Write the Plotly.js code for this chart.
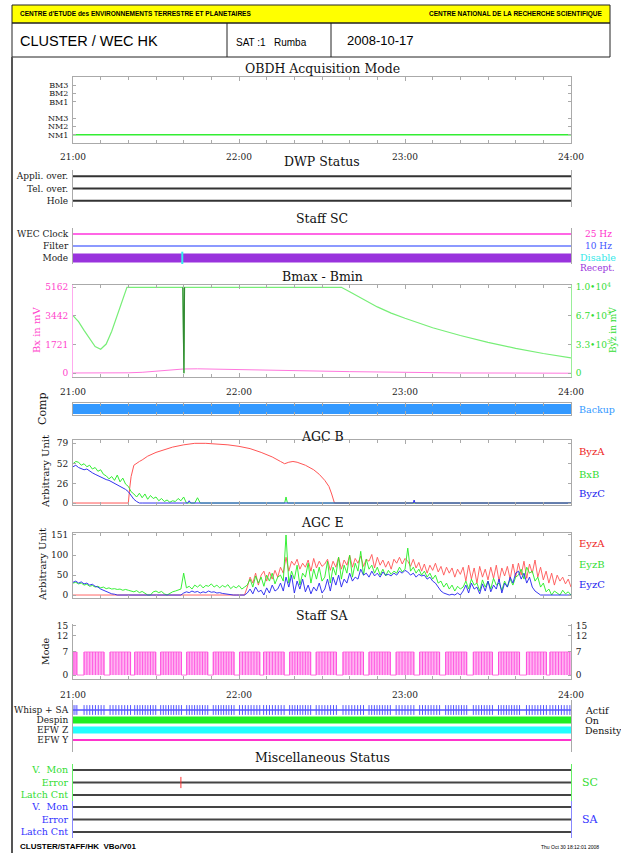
<!DOCTYPE html>
<html><head><meta charset="utf-8">
<script src="https://cdn.plot.ly/plotly-3.0.1.min.js"></script>
<style>html,body{margin:0;padding:0;background:#fff}#chart{width:621px;height:853px}</style>
</head><body><div id="chart"></div>
<script>
// ================= DATA =================
const timeTickVals = [21, 22, 23, 24];
const timeTickText = ['21:00', '22:00', '23:00', '24:00'];
const spanT = [21, 24];

// OBDH acquisition mode
const obdhLabels = ['NM1', 'NM2', 'NM3', 'BM1', 'BM2', 'BM3'];
const obdhLevels = [1, 2, 3, 5, 6, 7];
const obdhMode = [1, 1];

// DWP status
const dwpLabels = ['Hole', 'Tel. over.', 'Appli. over.'];
const dwpLevels = [0, 1, 2];
const dwpAppli = [2, 2];
const dwpTel = [1, 1];
const dwpHole = [0, 0];

// Staff SC
const scLabels = ['Mode', 'Filter', 'WEC Clock'];
const scLevels = [0, 1, 2];
const scWec = [2, 2];
const scFilter = [1, 1];
const scMode = [0, 0];
const scDisableMin = [39.5];
const scRightLabels = ['25 Hz', '10 Hz', 'Disable', 'Recept.'];

// Bmax - Bmin (minutes after 21:00)
const bxTicks = [0, 1721, 3442, 5162];
const byzTicks = [0, 3333, 6667, 10000];
const byzTickText = ['0', '3.3\u202210<sup>3</sup>', '6.7\u202210<sup>3</sup>', '1.0\u202210<sup>4</sup>'];
const byzMin = [0, 2, 4, 6, 8, 10, 12, 14, 16, 18, 19.5, 39.7, 39.9, 40.1, 40.3, 97, 100, 105, 110, 115, 120, 130, 140, 150, 160, 170, 180];
const byzVal = [6700, 6000, 5000, 4000, 3100, 2800, 3400, 4900, 6700, 8600, 10000, 10000, 0, 0, 10000, 10000, 9480, 8600, 7720, 7000, 6400, 5300, 4400, 3600, 2900, 2300, 1800];
const byzSpikeMin = [39.7, 39.9, 40.1, 40.3];
const byzSpikeVal = [10000, 0, 0, 10000];
const bxMin = [0, 10, 20, 25, 30, 35, 40, 45, 50, 60, 70, 80, 90, 100, 110, 120, 140, 160, 180];
const bxVal = [20, 10, 30, 60, 120, 200, 260, 270, 250, 220, 190, 160, 130, 100, 70, 40, 20, 15, 5];

// Comp
const compBackup = [0.5, 0.5];

// AGC B (minutes after 21:00)
const agcBTicks = [0, 26, 52, 79];
const byzAMin = [0, 20, 20.5, 21, 22, 23, 24, 25, 27, 30, 33, 36, 40, 44, 48, 52, 56, 60, 64, 68, 72, 75, 76.5, 78, 79.5, 81, 84, 87, 89, 91, 92.5, 93.5, 94.5, 180];
const byzAVal = [0, 0, 20, 35, 50, 53, 55, 57, 62, 67, 71, 74, 77, 79, 79, 78, 77, 75, 72, 67, 61, 55, 52, 54, 55, 54, 50, 44, 38, 30, 22, 12, 0, 0];
const bxBMin = [0, 1, 2, 3, 4, 5, 6, 7, 8, 9, 10, 11, 12, 13, 14, 15, 16, 17, 18, 19, 20, 21, 22, 23, 24, 25, 26, 27, 28, 29, 30, 31, 32, 33, 34, 35, 36, 37, 38, 39, 40, 41, 42, 43, 44, 45, 46, 76.5, 77, 77.5, 180];
const bxBVal = [52, 55, 54, 50, 52, 48, 50, 45, 47, 42, 44, 38, 36, 32, 35, 30, 37, 28, 33, 25, 22, 15, 12, 8, 13, 7, 12, 5, 10, 6, 8, 3, 6, 2, 4, 1, 3, 2, 6, 3, 8, 0, 0, 0, 0, 7, 0, 0, 8, 0, 0];
const byzCMin = [0, 1, 2, 3, 4, 5, 6, 7, 8, 9, 10, 11, 12, 13, 14, 15, 16, 17, 18, 19, 20, 21, 22, 23, 24, 25, 41.5, 42, 42.5, 123, 123.3, 123.6, 180];
const byzCVal = [48, 50, 47, 46, 44, 45, 42, 40, 38, 36, 35, 33, 31, 30, 28, 26, 25, 23, 20, 18, 15, 10, 5, 2, 0, 0, 0, 3, 0, 0, 4, 0, 0];

// AGC E : one sample per minute from 21:00 to 24:00
const agcETicks = [0, 50, 100, 151];
const agcEStepMin = 1;
const eyzA = [0,0,0,0,0,0,0,0,0,0, 0,0,0,0,0,0,0,0,0,0, 0,0,0,0,0,0,0,0,0,0, 0,0,0,0,0,0,0,0,0,0, 0,0,0,0,0,0,0,0,0,0, 0,0,0,0,0,0,0,0,0,0, 0,0,0,
  20,45,30,55,25,50,60,35,58,40,62,45,
  70,55,95,60,85,75,90,65,80,70,88,60,92,68,85,72,
  78,90,62,85,70,95,65,88,75,100,70,92,80,98,72,90,85,102,68,95,75,88,70,85,65,90,80,95,78,92,
  85,72,90,68,82,60,78,55,75,62,80,58,72,50,70,55,68,45,65,52,
  70,35,75,40,68,30,72,45,65,38,70,42,75,35,68,48,72,40,78,45,
  80,50,85,42,78,55,88,45,70,38,60,30,55,25,50,35,45,28,40,20];
const eyzB = [30,32,28,30,25,27,22,24,20,22,18,20,16,18,15,16,14,15,12,14,12,
  10,8,11,6,9,4,0,0,8,10,6,9,3,0,5,8,10,12,15,
  55,
  18,22,15,25,20,26,18,24,22,28,20,25,18,24,20,26,16,22,18,24,15,20,
  25,40,20,48,30,45,22,50,35,55,28,45,
  50,35,151,30,60,40,75,25,55,45,80,30,65,40,70,35,
  45,85,30,70,50,95,40,75,55,100,45,80,60,110,50,90,65,75,55,70,50,65,48,62,52,60,55,70,58,65,
  118,60,70,55,65,50,60,45,55,40,50,30,35,20,30,15,25,10,22,15,
  20,35,15,40,25,30,10,38,20,35,15,42,25,30,12,35,20,40,25,45,
  50,65,40,70,55,60,35,45,20,30,8,15,0,10,5,0,12,3,8,0];
const eyzC = [32,35,30,33,28,30,25,27,22,20,15,12,8,5,3,2,0,0,0,0,0,
  0,0,0,0,0,0,0,0,0,0,0,0,0,0,0,0,0,0,0,
  5,8,6,10,7,9,5,8,6,10,7,8,5,6,4,3,2,0,0,0,0,0,0,
  5,15,3,20,8,12,0,18,5,25,10,15,
  30,10,45,20,50,5,35,15,40,8,25,3,20,10,30,5,
  15,40,10,45,25,50,20,40,30,55,35,45,40,65,50,55,45,60,48,55,45,58,50,52,48,55,50,60,55,62,
  58,50,55,45,52,48,50,40,45,35,30,20,10,5,3,0,2,0,5,0,
  10,25,5,30,15,20,3,28,10,35,8,25,15,40,5,30,20,45,30,55,
  60,40,55,30,45,20,10,5,0,0,0,0,0,0,0,0,0,0,0,0];

// Staff SA : active bursts (minutes after 21:00), mode value 7 during bursts
const saTicks = [0, 7, 12, 15];
const saLevel = 7;
const saStart = [0, 4.0, 13.4, 22.3, 31.7, 41.1, 50.7, 60.2, 68.9, 78.3, 87.9, 97.6, 107.0, 116.8, 125.3, 134.7, 144.7, 153.8, 163.9, 172.4];
const saEnd   = [1.4, 11.2, 20.8, 29.9, 39.2, 48.7, 58.2, 67.5, 76.3, 85.9, 95.2, 105.0, 114.7, 123.2, 132.5, 142.3, 151.6, 161.4, 171.1, 179.6];

// Status
const stLabels = ['EFW Y', 'EFW Z', 'Despin', 'Whisp + SA'];
const stLevels = [0, 1, 2, 3];
const stWhisp = [3, 3];
const stDespin = [2, 2];
const stEfwZ = [1, 1];
const stEfwY = [0, 0];
const stRightLabels = ['Actif', 'On', 'Density'];

// Miscellaneous
const miscLabels = ['Latch Cnt', 'Error', 'V.  Mon'];
const miscLevels = [0, 1, 2];
const miscScLines = [[2, 2], [1, 1], [0, 0]];
const miscSaLines = [[2, 2], [1, 1], [0, 0]];
const miscScErrorMin = [39];

// ================= HELPERS =================
const W = 621, H = 853;
const X = p => p / W;
const Y = p => 1 - p / H;
const dom = (top, bot) => [Y(bot), Y(top)];
const toH = m => 21 + m / 60;
const SERIF = '"DejaVu Serif", "Liberation Serif", serif';
const SANS = '"Liberation Sans", Arial, sans-serif';
const AXC = '#aaaaaa';

const traces = [];
function tr(ax, xs, ys, color, width, extra) {
  const xa = ax === 1 ? 'x' : 'x' + ax, ya = ax === 1 ? 'y' : 'y' + ax;
  traces.push(Object.assign({type: 'scatter', mode: 'lines', x: xs, y: ys, xaxis: xa, yaxis: ya,
    line: {color: color, width: width}, hoverinfo: 'skip', showlegend: false}, extra || {}));
}

function xax(n, opts) {
  return Object.assign({
    domain: [X(73), X(571)], range: [21, 24], anchor: n === 1 ? 'y' : 'y' + n,
    tickmode: 'array', tickvals: timeTickVals, ticktext: timeTickText, showticklabels: false,
    tickfont: {family: SERIF, size: 9, color: '#222'}, ticks: 'inside', ticklen: 4, tickcolor: AXC,
    showgrid: false, zeroline: false, showline: true, linecolor: AXC, linewidth: 1, mirror: 'ticks',
    ticklabelstandoff: 5,
    minor: {tickmode: 'linear', tick0: 21, dtick: 1 / 6, ticks: 'inside', ticklen: 3, tickcolor: AXC, showgrid: false}
  }, opts || {});
}
function yax(n, top, bot, range, opts) {
  return Object.assign({
    domain: dom(top, bot), range: range, anchor: n === 1 ? 'x' : 'x' + n,
    tickfont: {family: SERIF, size: 9, color: '#222'}, ticks: 'inside', ticklen: 3, tickcolor: AXC,
    showgrid: false, zeroline: false, showline: true, linecolor: AXC, linewidth: 1, mirror: 'ticks',
    ticklabelstandoff: 2
  }, opts || {});
}

const layout = {
  width: W, height: H, autosize: false, margin: {l: 0, r: 0, t: 0, b: 0, pad: 0},
  paper_bgcolor: '#ffffff', plot_bgcolor: 'rgba(0,0,0,0)', showlegend: false,
  font: {family: SERIF, size: 9, color: '#222'}, shapes: [], annotations: []
};
function ann(text, xp, yp, opts) {
  layout.annotations.push(Object.assign({text: text, x: X(xp), y: Y(yp), xref: 'paper', yref: 'paper',
    showarrow: false, xanchor: 'center', yanchor: 'middle', font: {family: SERIF, size: 12, color: '#111'}}, opts || {}));
}
function title(text, yp) { ann(text, 322, yp, {font: {family: SERIF, size: 12.5, color: '#111'}}); }
function rlab(text, yp, color, size, xp) { ann(text, xp || 578, yp, {xanchor: 'left', font: {family: SERIF, size: size || 9.5, color: color}}); }
function vlab(text, xp, yp, color, size) { ann(text, xp, yp, {textangle: -90, font: {family: SERIF, size: size || 10, color: color}}); }

// ================= HEADER / FRAME =================
layout.shapes.push({type: 'rect', xref: 'paper', yref: 'paper', x0: X(12), x1: X(610), y0: Y(23), y1: Y(5), fillcolor: '#ffff00', line: {color: '#222', width: 1}, layer: 'below'});
layout.shapes.push({type: 'rect', xref: 'paper', yref: 'paper', x0: X(12), x1: X(610), y0: Y(57), y1: Y(23), line: {color: '#222', width: 1}});
layout.shapes.push({type: 'line', xref: 'paper', yref: 'paper', x0: X(227), x1: X(227), y0: Y(57), y1: Y(23), line: {color: '#222', width: 1}});
layout.shapes.push({type: 'line', xref: 'paper', yref: 'paper', x0: X(331), x1: X(331), y0: Y(57), y1: Y(23), line: {color: '#222', width: 1}});
layout.shapes.push({type: 'line', xref: 'paper', yref: 'paper', x0: X(12), x1: X(12), y0: 0, y1: Y(57), line: {color: '#555', width: 2}});
ann("<b>CENTRE d'ETUDE des ENVIRONNEMENTS TERRESTRE ET PLANETAIRES</b>", 18, 14, {xanchor: 'left', font: {family: SANS, size: 6.5, color: '#000'}});
ann('<b>CENTRE NATIONAL DE LA RECHERCHE SCIENTIFIQUE</b>', 605, 14, {xanchor: 'right', font: {family: SANS, size: 6.5, color: '#000'}});
ann('CLUSTER / WEC HK', 18, 41, {xanchor: 'left', font: {family: SANS, size: 14.5, color: '#000'}});
ann('SAT :1\u00a0\u00a0 Rumba', 234, 43, {xanchor: 'left', font: {family: SANS, size: 10, color: '#000'}});
ann('2008-10-17', 345, 41, {xanchor: 'left', font: {family: SANS, size: 13, color: '#000'}});
ann('<b>CLUSTER/STAFF/HK\u00a0 VBo/V01</b>', 18, 846, {xanchor: 'left', font: {family: SANS, size: 8, color: '#000'}});
ann('Thu Oct 30 18:12:01 2008', 601, 847, {xanchor: 'right', font: {family: SANS, size: 5, color: '#000'}});

// ================= PANEL 1: OBDH =================
title('OBDH Acquisition Mode', 69);
layout.xaxis = xax(1, {showticklabels: true, ticklabelstandoff: 5});
layout.yaxis = yax(1, 77, 143, [0, 8], {tickmode: 'array', tickvals: obdhLevels, ticktext: obdhLabels, tickfont: {family: SERIF, size: 8, color: '#222'}});
tr(1, spanT, obdhMode, '#33ee33', 1.5);

// ================= PANEL 2: DWP =================
title('DWP Status', 161);
layout.xaxis2 = xax(2, {showline: false, ticks: '', minor: {ticks: ''}});
layout.yaxis2 = yax(2, 170, 207, [-0.5, 2.5], {tickmode: 'array', tickvals: dwpLevels, ticktext: dwpLabels, ticks: '', mirror: true});
tr(2, spanT, dwpAppli, '#333', 2);
tr(2, spanT, dwpTel, '#333', 2);
tr(2, spanT, dwpHole, '#333', 2);

// ================= PANEL 3: Staff SC =================
title('Staff SC', 218);
layout.xaxis3 = xax(3, {showline: false, ticks: '', minor: {ticks: ''}});
layout.yaxis3 = yax(3, 228, 264, [-0.5, 2.5], {tickmode: 'array', tickvals: scLevels, ticktext: scLabels, ticks: '', mirror: true});
tr(3, spanT, scWec, '#ff33dd', 1.5);
tr(3, spanT, scFilter, '#6677ff', 1.5);
tr(3, spanT, scMode, '#9933dd', 9);
tr(3, scDisableMin.map(toH), scDisableMin.map(() => 0), '#33eeee', 1,
  {mode: 'markers', marker: {symbol: 'line-ns', size: 9, line: {color: '#33eeee', width: 2}}});
rlab(scRightLabels[0], 234, '#ff33cc', 9, 583);
rlab(scRightLabels[1], 246, '#4455ff', 9, 583);
rlab(scRightLabels[2], 257, '#33e8e8', 9.5, 578);
rlab(scRightLabels[3], 268, '#9933dd', 9, 578);

// ================= PANEL 4: Bmax - Bmin =================
title('Bmax - Bmin', 276);
layout.xaxis4 = xax(4, {showticklabels: true, ticklabelstandoff: 6});
layout.yaxis4 = yax(4, 285, 377, [-222, 5300], {tickmode: 'array', tickvals: bxTicks, tickfont: {family: SERIF, size: 9, color: '#ff44cc'}, linecolor: '#ffaaee', mirror: false});
layout.yaxis12 = yax(4, 285, 377, [-430, 10267], {overlaying: 'y4', side: 'right', tickmode: 'array', tickvals: byzTicks, ticktext: byzTickText, tickfont: {family: SERIF, size: 9, color: '#33dd33'}, linecolor: '#99ee99', mirror: false});
traces.push({type: 'scatter', mode: 'lines', x: bxMin.map(toH), y: bxVal, xaxis: 'x4', yaxis: 'y4', line: {color: '#ff77dd', width: 1}, hoverinfo: 'skip', showlegend: false});
traces.push({type: 'scatter', mode: 'lines', x: byzMin.map(toH), y: byzVal, xaxis: 'x4', yaxis: 'y12', line: {color: '#77ee77', width: 1.2}, hoverinfo: 'skip', showlegend: false});
traces.push({type: 'scatter', mode: 'lines', x: byzSpikeMin.map(toH), y: byzSpikeVal, xaxis: 'x4', yaxis: 'y12', line: {color: '#338833', width: 1.2}, hoverinfo: 'skip', showlegend: false});
vlab('Bx in mV', 36, 330, '#ff44cc', 10);
vlab('Byz in mV', 613, 330, '#33dd33', 9);

// ================= PANEL 5: Comp =================
layout.xaxis5 = xax(5);
layout.yaxis5 = yax(5, 403, 415, [0, 1], {showticklabels: false, ticks: ''});
tr(5, spanT, compBackup, '#3399ff', 10);
vlab('Comp', 42, 409, '#111', 11);
rlab('Backup', 409, '#3399ff', 9.5, 577);

// ================= PANEL 6: AGC B =================
title('AGC B', 436);
layout.xaxis6 = xax(6);
layout.yaxis6 = yax(6, 440, 505, [-2.6, 83.4], {tickmode: 'array', tickvals: agcBTicks});
tr(6, byzAMin.map(toH), byzAVal, '#ff5555', 1);
tr(6, bxBMin.map(toH), bxBVal, '#33ee33', 1);
tr(6, byzCMin.map(toH), byzCVal, '#3333ee', 1);
vlab('Arbitrary Unit', 45, 472, '#111', 10);
rlab('ByzA', 451, '#ee2222', 10, 577);
rlab('BxB', 474, '#33dd33', 10, 577);
rlab('ByzC', 494, '#2222ee', 10, 577);

// ================= PANEL 7: AGC E =================
title('AGC E', 522);
layout.xaxis7 = xax(7);
layout.yaxis7 = yax(7, 533, 598, [-7.5, 156], {tickmode: 'array', tickvals: agcETicks});
const eT = eyzA.map((_, i) => toH(i * agcEStepMin));
tr(7, eT, eyzA, '#ff5555', 0.9);
tr(7, eT, eyzB, '#22ee22', 0.9);
tr(7, eT, eyzC, '#2222ee', 0.9);
vlab('Arbitrary Unit', 42, 565, '#111', 10);
rlab('EyzA', 543, '#ee2222', 10, 577);
rlab('EyzB', 564, '#33dd33', 10, 577);
rlab('EyzC', 584, '#2222ee', 10, 577);

// ================= PANEL 8: Staff SA =================
title('Staff SA', 615);
layout.xaxis8 = xax(8, {showticklabels: true, mirror: false, ticklabelstandoff: 7});
layout.yaxis8 = yax(8, 624, 679, [-1.2, 15.5], {tickmode: 'array', tickvals: saTicks, mirror: 'ticks'});
layout.yaxis13 = yax(8, 624, 679, [-1.2, 15.5], {overlaying: 'y8', side: 'right', tickmode: 'array', tickvals: saTicks, mirror: false});
const saX = [21], saY = [0], stripeX = [], stripeY = [], whispX = [];
saStart.forEach((s, i) => {
  const e = saEnd[i];
  saX.push(toH(s), toH(s), toH(e), toH(e)); saY.push(0, saLevel, saLevel, 0);
  const n = Math.max(2, Math.round((e - s) / 1.0));
  for (let k = 0; k <= n; k++) {
    const t = toH(s + (e - s) * k / n);
    stripeX.push(t, t, null); stripeY.push(0, saLevel, null);
    whispX.push(t);
  }
});
saX.push(24); saY.push(0);
traces.push({type: 'scatter', mode: 'lines', x: saX, y: saY, xaxis: 'x8', yaxis: 'y8', fill: 'tozeroy', fillcolor: 'rgba(255,160,238,0.8)', line: {color: '#ff77e0', width: 1}, hoverinfo: 'skip', showlegend: false});
traces.push({type: 'scatter', mode: 'lines', x: stripeX, y: stripeY, xaxis: 'x8', yaxis: 'y8', line: {color: '#ff44dd', width: 0.8}, hoverinfo: 'skip', showlegend: false});
traces.push({type: 'scatter', mode: 'markers', x: [21], y: [0], xaxis: 'x8', yaxis: 'y13', marker: {opacity: 0}, hoverinfo: 'skip', showlegend: false});
vlab('Mode', 45, 651, '#111', 9.5);

// ================= PANEL 9: Status =================
layout.xaxis9 = xax(9, {showline: false, ticks: '', minor: {ticks: ''}});
layout.yaxis9 = yax(9, 700, 752, [-1.2, 4.0], {tickmode: 'array', tickvals: stLevels, ticktext: stLabels, ticks: '', mirror: true});
tr(9, spanT, stWhisp, '#5555ff', 1.5);
tr(9, whispX, whispX.map(() => stWhisp[0]), '#5555ff', 1,
  {mode: 'markers', marker: {symbol: 'line-ns', size: 7, line: {color: '#5555ff', width: 1}}});
tr(9, spanT, stDespin, '#22ee22', 7);
tr(9, spanT, stEfwZ, '#22ffff', 7);
tr(9, spanT, stEfwY, '#ff33cc', 2);
rlab(stRightLabels[0], 710, '#111', 9.5, 583);
rlab(stRightLabels[1], 720, '#111', 9.5, 583);
rlab(stRightLabels[2], 730, '#111', 9.5, 583);

// ================= PANEL 10/11: Misc =================
title('Miscellaneous Status', 757);
layout.xaxis10 = xax(10, {showline: false, ticks: '', minor: {ticks: ''}});
layout.yaxis10 = yax(10, 763.75, 801.25, [-0.5, 2.5], {tickmode: 'array', tickvals: miscLevels, ticktext: miscLabels, ticks: '', mirror: true, linecolor: '#66ee66', tickfont: {family: SERIF, size: 9.5, color: '#33dd33'}});
layout.xaxis11 = xax(11, {showline: false, ticks: '', minor: {ticks: ''}});
layout.yaxis11 = yax(11, 800.75, 838.25, [-0.5, 2.5], {tickmode: 'array', tickvals: miscLevels, ticktext: miscLabels, ticks: '', mirror: true, linecolor: '#8888ff', tickfont: {family: SERIF, size: 9.5, color: '#3333ff'}});
miscScLines.forEach(v => tr(10, spanT, v, '#444', 2));
miscSaLines.forEach(v => tr(11, spanT, v, '#444', 2));
tr(10, miscScErrorMin.map(toH), [1], '#ff3333', 1,
  {mode: 'markers', marker: {symbol: 'line-ns', size: 8, line: {color: '#ff3333', width: 1}}});
rlab('SC', 782, '#33dd33', 11, 580);
rlab('SA', 819, '#3333ff', 11, 580);

Plotly.newPlot('chart', traces, layout, {staticPlot: true, displayModeBar: false});
</script>
</body></html>
